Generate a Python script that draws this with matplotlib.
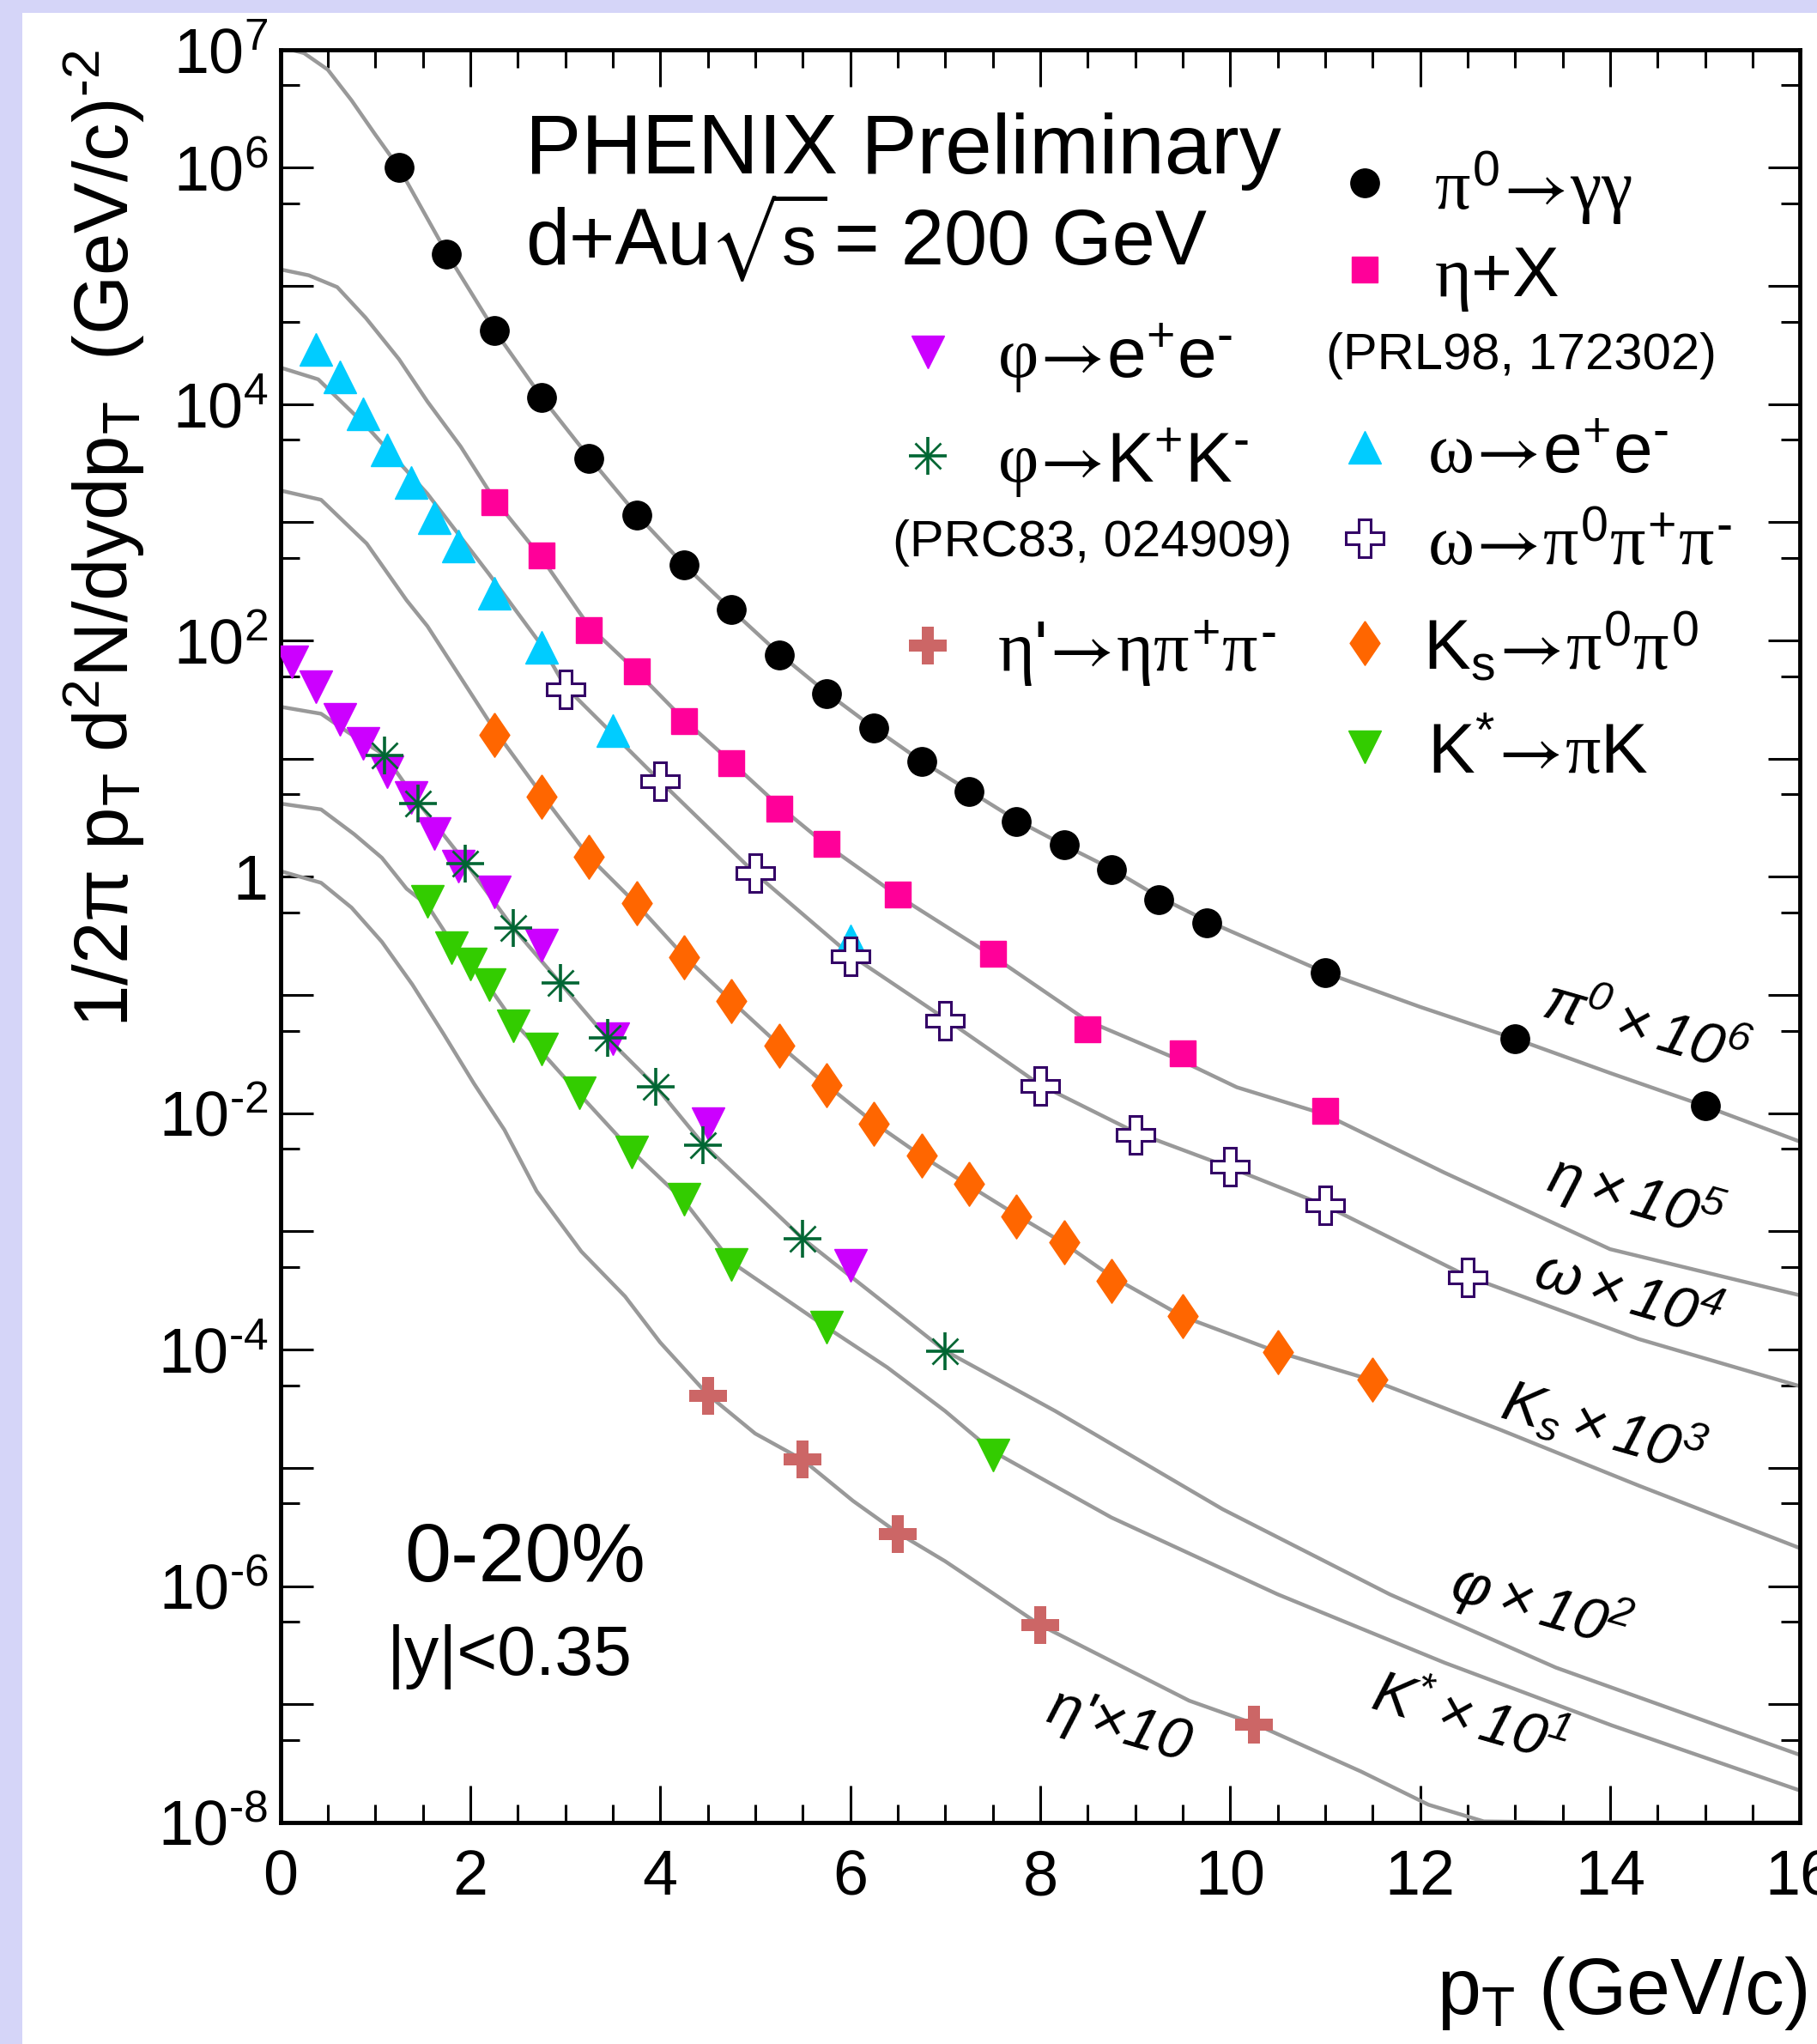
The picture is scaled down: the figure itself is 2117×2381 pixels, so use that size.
import matplotlib.pyplot as plt
from matplotlib.patches import Rectangle
from matplotlib.ticker import FixedLocator, FuncFormatter, MultipleLocator
import math

plt.rcParams['font.family'] = ['Liberation Sans', 'DejaVu Sans']
plt.rcParams['mathtext.fontset'] = 'custom'
plt.rcParams['mathtext.rm'] = 'Liberation Sans'
plt.rcParams['mathtext.it'] = 'Liberation Serif'
plt.rcParams['mathtext.sf'] = 'Liberation Sans:italic'
plt.rcParams['mathtext.bf'] = 'STIXGeneral'
plt.rcParams['mathtext.fallback'] = 'stix'

# ---- data points (already scaled) ----
pi0_pt = [1.25, 1.75, 2.25, 2.75, 3.25, 3.75, 4.25, 4.75, 5.25, 5.75, 6.25, 6.75,
          7.25, 7.75, 8.25, 8.75, 9.25, 9.75, 11, 13, 15]
pi0_y = [1.01e6, 1.86e5, 4.17e4, 1.14e4, 3.47e3, 1.15e3, 437, 182, 75.9, 35.5, 18.2, 9.55,
         5.25, 2.95, 1.86, 1.15, 0.646, 0.407, 0.155, 0.0427, 0.0115]

eta_pt = [2.25, 2.75, 3.25, 3.75, 4.25, 4.75, 5.25, 5.75, 6.5, 7.5, 8.5, 9.5, 11]
eta_y = [1.48e3, 525, 123, 55.0, 20.9, 9.12, 3.80, 1.91, 0.708, 0.224, 0.0513, 0.0324, 0.0105]

omee_pt = [0.375, 0.625, 0.875, 1.125, 1.375, 1.625, 1.875, 2.25, 2.75, 3.5, 6.0]
omee_y = [2.88e4, 1.70e4, 8.32e3, 4.07e3, 2.19e3, 1.10e3, 631, 251, 87.1, 17.4, 0.288]

om3pi_pt = [3, 4, 5, 6, 7, 8, 9, 10, 11, 12.5]
om3pi_y = [38.9, 6.46, 1.07, 0.214, 0.0603, 0.0170, 6.61e-3, 3.55e-3, 1.66e-3, 4.07e-4]

ks_pt = [2.25, 2.75, 3.25, 3.75, 4.25, 4.75, 5.25, 5.75, 6.25, 6.75, 7.25, 7.75, 8.25,
         8.75, 9.5, 10.5, 11.5]
ks_y = [15.8, 4.79, 1.48, 0.603, 0.209, 0.0891, 0.0372, 0.0174, 8.13e-3, 4.37e-3, 2.51e-3,
        1.35e-3, 8.13e-4, 3.80e-4, 1.91e-4, 9.55e-5, 5.62e-5]

phiee_pt = [0.125, 0.375, 0.625, 0.875, 1.125, 1.375, 1.625, 1.875, 2.25, 2.75, 3.5, 4.5, 6.0]
phiee_y = [66.1, 40.7, 21.4, 13.5, 7.76, 4.68, 2.34, 1.23, 0.741, 0.263, 0.0427, 8.13e-3, 5.13e-4]

phikk_pt = [1.1, 1.45, 1.95, 2.45, 2.95, 3.45, 3.95, 4.45, 5.5, 7.0]
phikk_y = [10.7, 4.17, 1.29, 0.372, 0.126, 0.0437, 0.0166, 5.37e-3, 8.71e-4, 9.77e-5]

kst_pt = [1.55, 1.8, 2.0, 2.2, 2.45, 2.75, 3.15, 3.7, 4.25, 4.75, 5.75, 7.5]
kst_y = [0.617, 0.251, 0.182, 0.123, 0.0550, 0.0347, 0.0148, 4.68e-3, 1.86e-3, 5.25e-4,
         1.55e-4, 1.29e-5]

etap_pt = [4.5, 5.5, 6.5, 8.0, 10.25]
etap_y = [4.07e-5, 1.17e-5, 2.75e-6, 4.68e-7, 6.76e-8]

# ---- fit curves ----
pi0_fx = [0, 0.25, 0.5, 0.75, 1.0, 1.25, 1.5, 1.75, 2.25, 2.75, 3.25, 3.75, 4.25, 4.75, 5.25,
          5.75, 6.25, 6.75, 7.25, 7.75, 8.25, 8.75, 9.25, 9.75, 11, 12, 13, 14, 15, 16]
pi0_fy = [1.05e7, 9.33e6, 6.76e6, 3.72e6, 1.91e6, 1.0e6, 4.37e5, 1.91e5, 4.27e4, 1.15e4,
          3.55e3, 1.17e3, 437, 182, 77.6, 36.3, 18.2, 9.55, 5.37, 3.02, 1.86, 1.17, 0.676,
          0.427, 0.155, 0.0794, 0.0427, 0.0219, 0.0115, 5.75e-3]

eta_fx = [0, 0.3, 0.6, 0.9, 1.25, 1.55, 1.9, 2.25, 2.75, 3.25, 3.75, 4.25, 4.75, 5.25, 5.75,
          6.5, 7.5, 8.5, 9.5, 10.07, 11, 12.25, 14, 16]
eta_fy = [1.38e5, 1.23e5, 9.77e4, 5.37e4, 2.40e4, 1.05e4, 4.37e3, 1.58e3, 501, 132, 55.0,
          21.4, 9.33, 3.98, 1.86, 0.692, 0.214, 0.0603, 0.0275, 0.0166, 9.77e-3, 3.16e-3,
          7.08e-4, 2.88e-4]

om_fx = [0, 0.4, 0.9, 1.55, 2.2, 2.75, 3.0, 4.0, 5.0, 6.0, 7.0, 8.0, 9.0, 10.0, 11.0, 12.5,
         14.3, 16]
om_fy = [2.04e4, 1.62e4, 6.61e3, 1.74e3, 363, 91.2, 40.7, 6.46, 1.07, 0.219, 0.0631, 0.0174,
         6.92e-3, 3.47e-3, 1.66e-3, 4.17e-4, 1.23e-4, 4.90e-5]

ks_fx = [0, 0.43, 0.91, 1.33, 1.55, 2.25, 2.75, 3.25, 3.75, 4.25, 4.75, 5.25, 5.75, 6.25,
         6.75, 7.25, 7.75, 8.25, 8.75, 9.5, 10.5, 11.5, 12.85, 14.3, 16]
ks_fy = [1.86e3, 1.55e3, 661, 219, 132, 17.8, 5.01, 1.48, 0.589, 0.214, 0.0891, 0.0380,
         0.0174, 8.32e-3, 4.37e-3, 2.45e-3, 1.38e-3, 7.94e-4, 4.17e-4, 1.91e-4, 9.55e-5,
         5.50e-5, 2.09e-5, 7.08e-6, 2.09e-6]

phi_fx = [0, 0.43, 0.72, 1.1, 1.45, 1.95, 2.45, 2.95, 3.45, 3.95, 4.45, 5.5, 7.0, 8.16, 9.92,
          11.68, 13.43, 16]
phi_fy = [27.5, 24.0, 16.6, 10.7, 4.27, 1.32, 0.372, 0.126, 0.0427, 0.0170, 5.50e-3, 8.71e-4,
          9.77e-5, 3.02e-5, 4.47e-6, 8.51e-7, 2.04e-7, 3.72e-8]

kst_fx = [0, 0.43, 0.78, 1.07, 1.33, 1.55, 1.8, 2.0, 2.2, 2.45, 2.75, 3.15, 3.7, 4.25, 4.75,
          5.75, 6.39, 7.0, 7.5, 8.75, 10.5, 12.26, 14.02, 16]
kst_fy = [4.17, 3.72, 2.29, 1.45, 0.794, 0.575, 0.282, 0.182, 0.117, 0.0603, 0.0331, 0.0145,
          4.79e-3, 1.82e-3, 5.50e-4, 1.55e-4, 7.08e-5, 3.02e-5, 1.38e-5, 3.80e-6, 8.51e-7,
          2.24e-7, 6.61e-8, 1.86e-8]

etap_fx = [0, 0.43, 0.75, 1.07, 1.39, 1.72, 2.04, 2.36, 2.7, 3.17, 3.63, 4.0, 4.5, 5.0, 5.5,
           6.03, 6.5, 7.0, 8.0, 9.57, 10.27, 11.38, 12.09, 12.67, 13.5, 16]
etap_fy = [1.12, 0.891, 0.550, 0.282, 0.123, 0.0468, 0.0178, 7.24e-3, 2.19e-3, 6.76e-4,
           2.82e-4, 1.15e-4, 4.17e-5, 1.95e-5, 1.17e-5, 5.25e-6, 2.82e-6, 1.62e-6, 4.68e-7,
           1.07e-7, 6.76e-8, 2.69e-8, 1.41e-8, 1.02e-8, 1e-8, 1e-8]

y_labels = {7: r'$\mathrm{10^{7}}$', 6: r'$\mathrm{10^{6}}$', 4: r'$\mathrm{10^{4}}$',
            2: r'$\mathrm{10^{2}}$', 0: '1', -2: r'$\mathrm{10^{\text{-2}}}$',
            -4: r'$\mathrm{10^{\text{-4}}}$', -6: r'$\mathrm{10^{\text{-6}}}$',
            -8: r'$\mathrm{10^{\text{-8}}}$'}

# reference layout was measured on a 1394x1568 picture
W, H = 1394.0, 1568.0
def fx(x):
    return x / W
def fy(y):
    return 1 - y / H

fig = plt.figure(figsize=(21.17, 23.81), dpi=100)
fig.patch.set_facecolor('#d5d5f8')
fig.add_artist(Rectangle((26 / 2117, 0), 1, 1 - 15 / 2381, transform=fig.transFigure,
                         facecolor='white', edgecolor='none', zorder=-5))

ax = fig.add_axes([fx(215), fy(1398), fx(1381) - fx(215), fy(38) - fy(1398)])
ax.set_facecolor('white')
ax.set_yscale('log')
ax.set_xlim(0, 16)
ax.set_ylim(1e-8, 1e7)

grey = '#999999'
for cx, cy in [(pi0_fx, pi0_fy), (eta_fx, eta_fy), (om_fx, om_fy), (ks_fx, ks_fy),
               (phi_fx, phi_fy), (kst_fx, kst_fy), (etap_fx, etap_fy)]:
    ax.plot(cx, cy, color=grey, lw=3.2, zorder=2)

diamond = [(0, 1), (0.68, 0), (0, -1), (-0.68, 0), (0, 1)]
styles = {
    'pi0': dict(marker='o', color='black', ms=24, ls='none'),
    'eta': dict(marker='s', color='#ff0099', ms=21.5, ls='none'),
    'omee': dict(marker='^', color='#00ccff', ms=27, ls='none'),
    'om3pi': dict(marker='P', mfc='white', mec='#330066', mew=2.2, ms=31, ls='none'),
    'ks': dict(marker=diamond, color='#ff6600', ms=37, ls='none'),
    'kst': dict(marker='v', color='#33cc00', ms=27, ls='none'),
    'phiee': dict(marker='v', color='#cc00ff', ms=27, ls='none'),
    'etap': dict(marker='P', color='#cc6666', mew=0, ms=31, ls='none'),
}
star_plus = dict(marker='+', color='#006633', ms=31, mew=2.6, ls='none')
star_x = dict(marker='x', color='#006633', ms=21, mew=2.0, ls='none')

ax.plot(pi0_pt, pi0_y, zorder=3, **styles['pi0'])
ax.plot(eta_pt, eta_y, zorder=3, **styles['eta'])
ax.plot(ks_pt, ks_y, zorder=3, **styles['ks'])
ax.plot(kst_pt, kst_y, zorder=3, **styles['kst'])
ax.plot(phiee_pt, phiee_y, zorder=3, **styles['phiee'])
ax.plot(phikk_pt, phikk_y, zorder=4, **star_plus)
ax.plot(phikk_pt, phikk_y, zorder=4, **star_x)
ax.plot(etap_pt, etap_y, zorder=3, **styles['etap'])
ax.plot(omee_pt, omee_y, zorder=3, **styles['omee'])
ax.plot(om3pi_pt, om3pi_y, zorder=4, **styles['om3pi'])

# axes style
ax.yaxis.set_major_locator(FixedLocator([10.0 ** k for k in range(-8, 8)]))
ax.yaxis.set_minor_locator(FixedLocator([5 * 10.0 ** k for k in range(-9, 7)]))
ax.yaxis.set_major_formatter(FuncFormatter(
    lambda v, p: y_labels.get(int(round(math.log10(v))), '')))
ax.xaxis.set_major_locator(MultipleLocator(2))
ax.xaxis.set_minor_locator(MultipleLocator(0.5))
ax.tick_params(which='both', direction='in', top=True, right=True, width=2.2, colors='black')
ax.tick_params(axis='y', which='major', length=27, labelsize=53, pad=10)
ax.tick_params(axis='y', which='minor', length=16)
ax.tick_params(axis='x', which='major', length=31, labelsize=53, pad=22)
ax.tick_params(axis='x', which='minor', length=15)
for s in ax.spines.values():
    s.set_linewidth(3.5)

fig.text(fx(80), fy(38), r'$\mathrm{1/2\pi\ p_{T}\ d^{2}N/dydp_{T}\ \ (GeV/c)^{\text{-2}}}$',
         rotation=90, ha='center', va='top', fontsize=64)
fig.text(fx(1386), fy(1545), r'$\mathrm{p_{T}}$ (GeV/c)', ha='right', va='baseline',
         fontsize=66)

fig.text(fx(403), fy(133), 'PHENIX Preliminary', fontsize=70.5, va='baseline')

# second title line built from pieces so the root sign stays small
rend = fig.canvas.get_renderer()
t1 = fig.text(fx(403), fy(203), 'd+Au', fontsize=66, va='baseline')
x1 = t1.get_window_extent(rend).x1 / fig.bbox.width
t2 = fig.text(x1 - 0.001, fy(203), r'$\sqrt{\mathrm{s}}$', fontsize=58, va='baseline')
x2 = t2.get_window_extent(rend).x1 / fig.bbox.width
fig.text(x2 + 0.004, fy(203), '= 200 GeV', fontsize=65, va='baseline')

fig.text(fx(310), fy(1213), '0-20%', fontsize=70, va='baseline')
fig.text(fx(297), fy(1285), '|y|<0.35', fontsize=58, va='baseline')

# legend, drawn by hand like the original
def entry(mx, my, style_list, label, tx):
    for st in style_list:
        ax.plot([fx(mx)], [fy(my)], transform=fig.transFigure, clip_on=False, zorder=5, **st)
    fig.text(fx(tx), fy(my + 20), label, fontsize=59, va='baseline')

arr = r'\!\mathbf{\rightarrow}\!'
entry(1047, 140, [styles['pi0']], r'$\pi^{\mathrm{0}}' + arr + r'\gamma\gamma$', 1100)
entry(1047, 207, [styles['eta']], r'$\eta\mathrm{+X}$', 1100)
entry(1047, 343, [styles['omee']], r'$\omega' + arr + r'\mathrm{e^{+}e^{\text{-}}}$', 1095)
entry(1047, 413, [styles['om3pi']], r'$\omega' + arr + r'\pi^{\mathrm{0}}\pi^{+}\pi^{\text{-}}$', 1095)
entry(1047, 493, [styles['ks']], r'$\mathrm{K_{s}}' + arr + r'\pi^{\mathrm{0}}\pi^{\mathrm{0}}$', 1092)
entry(1047, 573, [styles['kst']], r'$\mathrm{K^{*}}' + arr + r'\pi\mathrm{K}$', 1095)
entry(712, 270, [styles['phiee']], r'$\varphi' + arr + r'\mathrm{e^{+}e^{\text{-}}}$', 765)
entry(712, 350, [star_plus, star_x], r'$\varphi' + arr + r'\mathrm{K^{+}K^{\text{-}}}$', 765)
entry(712, 495, [styles['etap']], r"$\eta$'$" + arr + r'\eta\pi^{+}\pi^{\text{-}}$', 765)

fig.text(fx(1167), fy(283), '(PRL98, 172302)', fontsize=43, ha='center', va='baseline')
fig.text(fx(838), fy(427), '(PRC83, 024909)', fontsize=43, ha='center', va='baseline')

# scale factor labels on the curves
for cx, cy, txt in [(1262, 790, r'$\mathsf{\pi^{0}\times10^{6}}$'),
                    (1255, 918, r'$\mathsf{\eta\times10^{5}}$'),
                    (1248, 995, r'$\mathsf{\omega\times10^{4}}$'),
                    (1230, 1095, r'$\mathsf{K_{s}\times10^{3}}$'),
                    (1182, 1232, r'$\mathsf{\varphi\times10^{2}}$'),
                    (1127, 1320, r'$\mathsf{K^{*}\times10^{1}}$'),
                    (858, 1325, r"$\mathsf{\eta}$'$\mathsf{\times10}$")]:
    fig.text(fx(cx), fy(cy), txt, fontsize=50, rotation=-16, rotation_mode='anchor',
             ha='center', va='center', style='italic')

fig.savefig('out.png', dpi=100, facecolor=fig.get_facecolor())
